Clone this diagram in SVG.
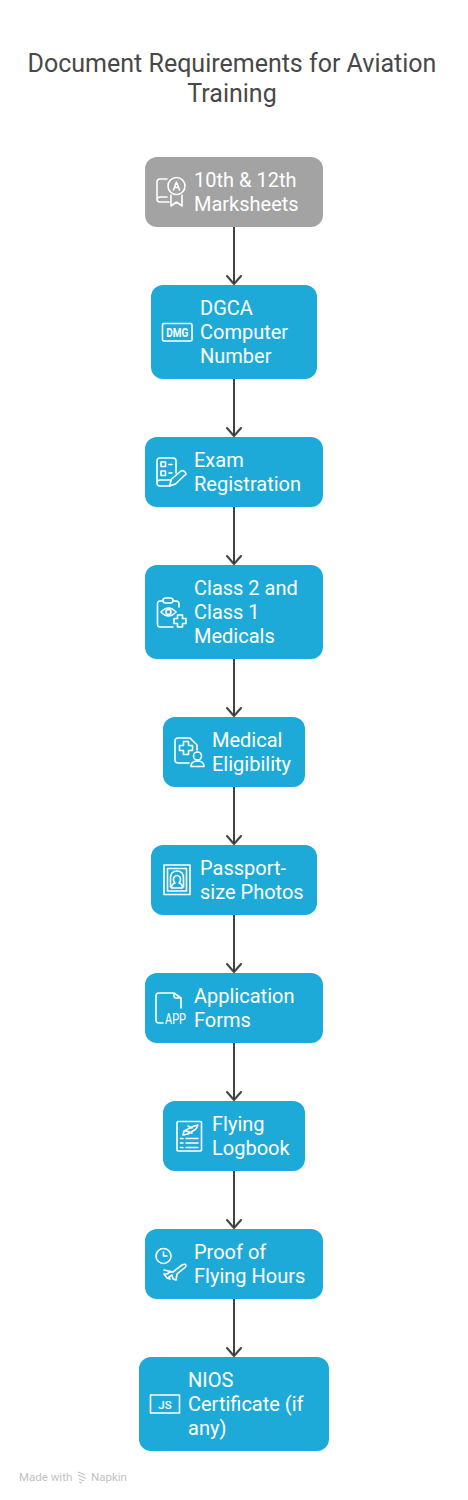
<svg xmlns="http://www.w3.org/2000/svg" width="468" height="1500" viewBox="0 0 468 1500">
<defs>
<marker id="arr" markerUnits="userSpaceOnUse" markerWidth="11" markerHeight="18" refX="8" refY="0" orient="auto" viewBox="-1 -9 11 18"><path d="M0 -7L8 0L0 7" fill="none" stroke="#434343" stroke-width="2" stroke-linecap="round" stroke-linejoin="round"/></marker>
</defs>
<style>
text{font-family:Roboto,"Liberation Sans",sans-serif}
.t{font-size:25px;fill:#484848;text-anchor:middle}
.l{font-size:20px;fill:#fff}
.b{fill:#1eaad9}
.g{fill:#a3a3a3}
.i{fill:none;stroke:#fff;stroke-width:1.6;stroke-linecap:round;stroke-linejoin:round}
.c{fill:none;stroke:#434343;stroke-width:2;marker-end:url(#arr)}
.m{fill:#fff;text-anchor:middle}
</style>
<rect width="468" height="1500" fill="#fff"/>
<g id="title"><text class="t" x="232" y="72">Document Requirements for Aviation</text><text class="t" x="232" y="102">Training</text></g>
<g id="connectors">
<path class="c" d="M234 227V284"/><path class="c" d="M234 379V436"/><path class="c" d="M234 507V564"/><path class="c" d="M234 659V716"/><path class="c" d="M234 787V844"/><path class="c" d="M234 915V972"/><path class="c" d="M234 1043V1100"/><path class="c" d="M234 1171V1228"/><path class="c" d="M234 1299V1356"/>
</g>
<g id="n1"><rect class="g" x="145" y="157" width="178" height="70" rx="12"/>
<path class="i" d="M167 179H160Q157 179 157 182V199Q157 202 160 202H169M157 199Q158 197 160 197H167"/><circle class="i" cx="176.500" cy="186" r="8.500"/><path class="i" d="M173.500 190L176.500 182L179.500 190M174.500 187.500H178.500"/><path class="i" d="M171 195V206L176.500 202L182 206V195"/>
<text class="l" x="194" y="187">10th &amp; 12th</text><text class="l" x="194" y="211">Marksheets</text></g>
<g id="n2"><rect class="b" x="151" y="285" width="166" height="94" rx="12"/>
<rect class="i" x="162.500" y="323.500" width="29.500" height="17.500" rx="1.500"/><text class="m" x="177.300" y="337" font-size="12" font-weight="700" textLength="22" lengthAdjust="spacingAndGlyphs">DMG</text>
<text class="l" x="200" y="315">DGCA</text><text class="l" x="200" y="339">Computer</text><text class="l" x="200" y="363">Number</text></g>
<g id="n3"><rect class="b" x="145" y="437" width="178" height="70" rx="12"/>
<path class="i" d="M176 473V461Q176 458 173 458H160Q157 458 157 461V483Q157 486 160 486H170M157 482Q158 480 160 480H170"/><rect class="i" x="161" y="462" width="4.500" height="4.500"/><rect class="i" x="161" y="471" width="4.500" height="4.500"/><path class="i" d="M169 464.500H172M169 473H172"/><path class="i" d="M169.500 486L171.500 479L181 471Q183 470 185 472T185 475L175.500 484Z"/>
<text class="l" x="194" y="467">Exam</text><text class="l" x="194" y="491">Registration</text></g>
<g id="n4"><rect class="b" x="145" y="565" width="178" height="94" rx="12"/>
<path class="i" d="M163 601H160Q157.500 601 157.500 604V624Q157.500 627 160 627H173M179 607V604Q179 601 176 601H173"/><rect class="i" x="163" y="598" width="10" height="5" rx="2.500"/><path class="i" d="M161 612Q168.500 604 176 612Q168.500 620 161 612Z"/><circle class="i" cx="168.500" cy="612" r="2.500"/><path class="i" d="M177.500 615H182.500V618.500H186V623.500H182.500V627H177.500V623.500H174V618.500H177.500Z"/>
<text class="l" x="194" y="595">Class 2 and</text><text class="l" x="194" y="619">Class 1</text><text class="l" x="194" y="643">Medicals</text></g>
<g id="n5"><rect class="b" x="163" y="717" width="142" height="70" rx="12"/>
<path class="i" d="M178 738H190L197 745V750M189 763H178Q175 763 175 760V741Q175 738 178 738"/><path class="i" d="M183.500 741.500H188.500V745.500H192.500V750.500H188.500V754.500H183.500V750.500H179.500V745.500H183.500Z"/><circle class="i" cx="197.500" cy="756" r="4"/><path class="i" d="M191 766.500Q191 761 197.500 761Q204 761 204 766.500Z"/>
<text class="l" x="212" y="747">Medical</text><text class="l" x="212" y="771">Eligibility</text></g>
<g id="n6"><rect class="b" x="151" y="845" width="166" height="70" rx="12"/>
<rect class="i" x="164" y="865" width="26" height="29.500"/><rect class="i" x="167.500" y="868.500" width="19" height="22.500"/><path class="i" d="M170.500 887V878Q170.500 871 177 871Q183.500 871 183.500 878V887"/><path class="i" d="M171.500 888Q171.500 884 175 883Q172.500 880 174 877Q177 874 180 877Q181.500 880 179 883Q182.500 884 182.500 888Z"/>
<text class="l" x="200" y="875">Passport-</text><text class="l" x="200" y="899">size Photos</text></g>
<g id="n7"><rect class="b" x="145" y="973" width="178" height="70" rx="12"/>
<path class="i" d="M181 1008V998L174 993H159Q156 993 156 996V1020Q156 1023 159 1023H163M174 993V996Q174 998 176 998H181"/><text class="m" x="175.500" y="1023.500" font-size="15" textLength="21" lengthAdjust="spacingAndGlyphs">APP</text>
<text class="l" x="194" y="1003">Application</text><text class="l" x="194" y="1027">Forms</text></g>
<g id="n8"><rect class="b" x="163" y="1101" width="142" height="70" rx="12"/>
<rect class="i" x="177" y="1121.500" width="24.500" height="29.500" rx="1"/><path class="i" d="M184 1131L194 1126L198 1125L196 1129L188 1134L183 1135ZM188 1126L192 1128M186 1131L192 1133"/><path class="i" d="M180.500 1138.500H183M186 1138.500H198M180.500 1143H183M186 1143H198M180.500 1147.500H183M186 1147.500H198"/>
<text class="l" x="212" y="1131">Flying</text><text class="l" x="212" y="1155">Logbook</text></g>
<g id="n9"><rect class="b" x="145" y="1229" width="178" height="70" rx="12"/>
<circle class="i" cx="163.500" cy="1256" r="7.500"/><path class="i" d="M163.500 1252V1256H167"/><path class="i" d="M164 1270L173 1272L182 1265Q186 1263 186 1266Q185 1268 183 1269L177 1274L176 1280L173 1279L172 1275L169 1277L170 1279L167 1278L164 1274L167 1274L170 1272"/>
<text class="l" x="194" y="1259">Proof of</text><text class="l" x="194" y="1283">Flying Hours</text></g>
<g id="n10"><rect class="b" x="139" y="1357" width="190" height="94" rx="12"/>
<rect class="i" x="150.500" y="1395" width="29" height="18"/><text class="m" x="165" y="1409" font-size="11.500" font-weight="500">JS</text>
<text class="l" x="188" y="1387">NIOS</text><text class="l" x="188" y="1411">Certificate (if</text><text class="l" x="188" y="1435">any)</text></g>
<g id="footer"><text x="19" y="1481" font-size="11.500" fill="#c2c2c2">Made with</text><path d="M78 1472L85 1475M78 1475L86 1478.500M79 1479L84 1481M79 1482L82 1483" stroke="#c2c2c2" stroke-width="1.300" fill="none"/><text x="91" y="1481" font-size="11.500" fill="#c2c2c2">Napkin</text></g>
</svg>
